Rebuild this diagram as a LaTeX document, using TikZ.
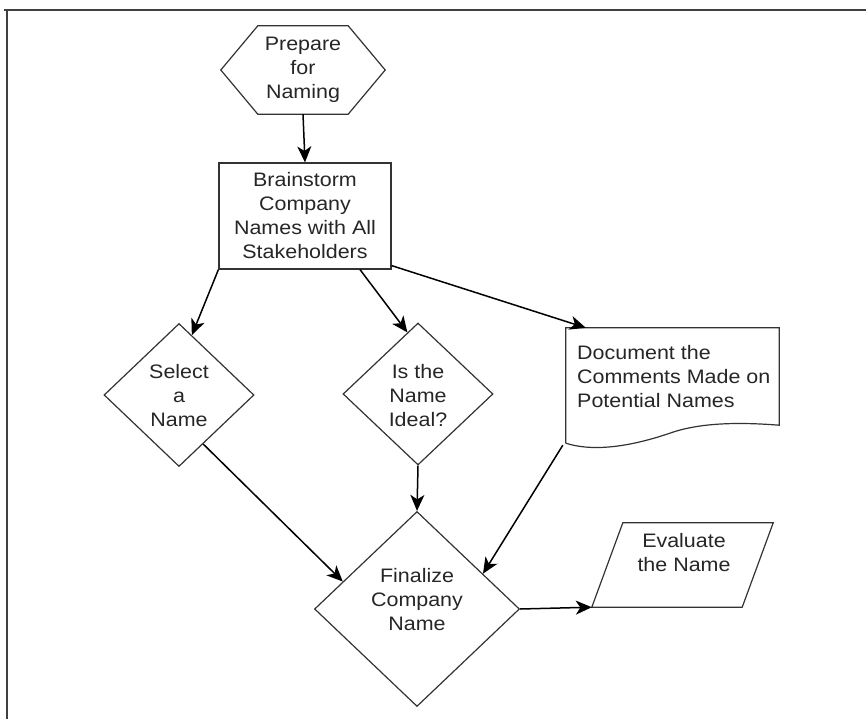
\documentclass[tikz,border=0pt]{standalone}
\usepackage{fontspec}
\setmainfont{Liberation Sans}[FakeStretch=1.1]
\usetikzlibrary{arrows.meta,shapes.geometric,calc}

\tikzset{
  lbl/.style={align=center, inner sep=0pt, text=black!85,
    font=\fontsize{19.5}{24}\selectfont},
  outline/.style={draw=black!80, line width=1.2pt},
  holder/.style={inner sep=0pt, draw=none},
  decision/.style={diamond, outline, inner sep=0pt},
  conn/.style={draw=black, line width=1.5pt,
    -{Stealth[length=16pt,width=14pt,inset=4.5pt]}},
}

\begin{document}
\begin{tikzpicture}[x=1pt,y=-1pt]
  \useasboundingbox (0,0) rectangle (866,719);

  % page frame, top and left edges
  \draw[line width=2pt, black!75] (4,10.5) -- (866,10.5);
  \draw[line width=2pt, black!75] (7,10.5) -- (7,719);

  % preparation (hexagon)
  \node[holder, lbl, minimum width=164pt, minimum height=88pt] (prep) at (303,70)
    {Prepare\\for\\Naming};
  \draw[outline] (prep.west) -- ([xshift=37pt]prep.north west)
    -- ([xshift=-37pt]prep.north east) -- (prep.east)
    -- ([xshift=-37pt]prep.south east) -- ([xshift=37pt]prep.south west) -- cycle;

  % process box
  \node[outline, lbl, minimum width=172pt, minimum height=106pt] (brain) at (305,216)
    {Brainstorm\\Company\\Names with All\\Stakeholders};

  % decisions
  \node[decision, minimum width=150pt, minimum height=143pt] (sel) at (179,395) {};
  \node[lbl] (selT) at (179,396) {Select\\a\\Name};

  \node[decision, minimum width=150pt, minimum height=142pt] (ideal) at (418,394) {};
  \node[lbl] (idealT) at (418,396) {Is the\\Name\\Ideal?};

  \node[decision, minimum width=205pt, minimum height=195pt] (fin) at (417,609) {};
  \node[lbl] (finT) at (417,600) {Finalize\\Company\\Name};

  % document shape
  \node[holder, minimum width=213pt, minimum height=115pt] (doc) at (672.5,385.5) {};
  \draw[outline] (doc.south west) -- (doc.north west) -- (doc.north east)
    -- ([yshift=18pt]doc.south east)
    .. controls ($(doc.south west)+(175,-21)$) and ($(doc.south west)+(135,-21)$)
    .. ($(doc.south west)+(104,-10)$)
    .. controls ($(doc.south west)+(60,5)$) and ($(doc.south west)+(25,8)$)
    .. (doc.south west);
  \node[lbl, align=left, anchor=west] (docT) at (577,377)
    {Document the\\Comments Made on\\Potential Names};

  % data (parallelogram)
  \node[holder, minimum width=181pt, minimum height=84pt] (eval) at (682.5,565) {};
  \draw[outline] (eval.south west) -- ([xshift=31pt]eval.north west)
    -- (eval.north east) -- ([xshift=-31pt]eval.south east) -- cycle;
  \node[lbl] (evalT) at (684,553) {Evaluate\\the Name};

  % connectors
  \draw[conn] (prep.south) -- (brain.north);
  \draw[conn] (brain.south west) -- ($(sel.north)!0.17!(sel.east)$);
  \draw[conn] ([xshift=55pt]brain.south) -- ($(ideal.north)!0.14!(ideal.west)$);
  \draw[conn] ([yshift=4pt]brain.south east) -- ([xshift=20pt]doc.north west);
  \draw[conn] (ideal.south) -- (fin.north);
  \draw[conn] ($(sel.east)!0.68!(sel.south)$) -- ($(fin.north)!0.72!(fin.west)$);
  \draw[conn] ([xshift=-3pt,yshift=-2pt]doc.south west) -- ($(fin.north)!0.64!(fin.east)$);
  \draw[conn] (fin.east) -- (eval.south west);
\end{tikzpicture}
\end{document}
